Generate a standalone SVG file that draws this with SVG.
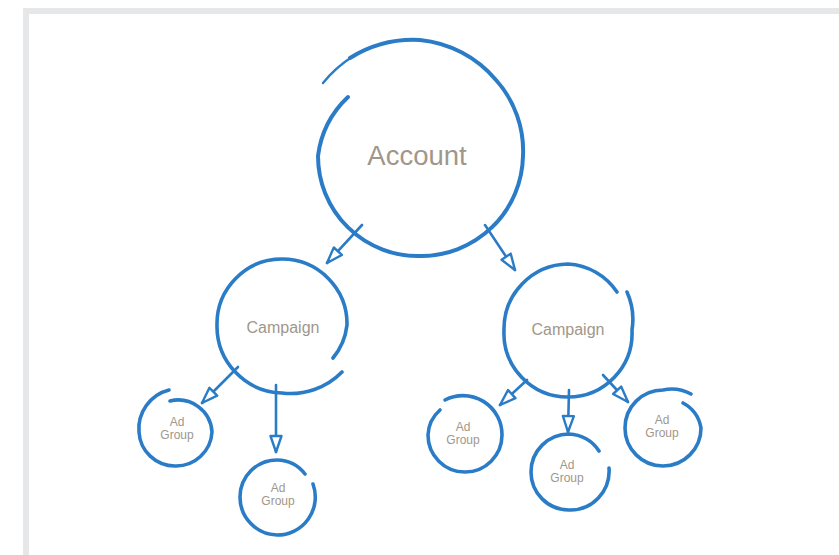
<svg xmlns="http://www.w3.org/2000/svg" width="839" height="555" viewBox="0 0 839 555">
<style>
.ring{fill:none;stroke:#2b7cc7;stroke-width:3.6;stroke-linecap:round;stroke-linejoin:round}
.big{stroke-width:4}
.tail{fill:none;stroke:#2b7cc7;stroke-width:2.4;stroke-linecap:round}
.conn{fill:none;stroke:#2b7cc7;stroke-width:2.6;stroke-linecap:round}
.lbl{font-family:"Liberation Sans",Arial,sans-serif;fill:#a0978b;text-anchor:middle}
</style>
<defs>
<marker id="ah" viewBox="0 0 20 14" refX="18" refY="7" markerWidth="20" markerHeight="14" markerUnits="userSpaceOnUse" orient="auto">
<path d="M2,1.5 L18,7 L2,12.5 Z" fill="#fff" stroke="#2b7cc7" stroke-width="2.4" stroke-linejoin="round"/>
</marker>
</defs>
<rect x="0" y="0" width="839" height="555" fill="#fff"/>
<g id="frame" fill="#e6e7e8">
<rect x="23" y="8" width="816" height="6"/>
<rect x="23" y="8" width="6" height="547"/>
</g>
<g id="connectors">
<line class="conn" x1="362" y1="225" x2="327" y2="263" marker-end="url(#ah)"/>
<line class="conn" x1="485" y1="225" x2="515" y2="270" marker-end="url(#ah)"/>
<line class="conn" x1="238" y1="367" x2="202" y2="403" marker-end="url(#ah)"/>
<line class="conn" x1="276" y1="385" x2="276" y2="452" marker-end="url(#ah)"/>
<line class="conn" x1="527" y1="380" x2="500" y2="405" marker-end="url(#ah)"/>
<line class="conn" x1="569" y1="390" x2="568" y2="432" marker-end="url(#ah)"/>
<line class="conn" x1="603" y1="375" x2="628" y2="402" marker-end="url(#ah)"/>
</g>
<g id="account">
<path class="ring big" d="M348,97 A98,98 0 0 0 318,156 A100,100 0 0 0 420,256 A102,102 0 0 0 523,156 A106,106 0 0 0 496,80 A114,114 0 0 0 420,40 A120,120 0 0 0 350,58"/>
<path class="tail" d="M352,57 Q336,67 323,83"/>
<text class="lbl" x="417" y="165" font-size="27.5">Account</text>
</g>
<g id="campaign-left">
<path class="ring" d="M333,358 A63,63 0 0 0 347,325 A65,65 0 0 0 282,259 A65,65 0 0 0 217,325 A67,67 0 0 0 282,393 A72,72 0 0 0 342,372"/>
<text class="lbl" x="283" y="333" font-size="16">Campaign</text>
</g>
<g id="campaign-right">
<path class="ring" d="M627,292 A67,67 0 0 1 632,330 A64,64 0 0 1 568,397 A64,64 0 0 1 504,330 A65,65 0 0 1 568,264 A63,63 0 0 1 617,292"/>
<text class="lbl" x="568" y="335" font-size="16">Campaign</text>
</g>
<g id="adgroup-1">
<path class="ring" d="M170,401 A34,34 0 0 1 212,432 A36,36 0 0 1 175,466 A36,36 0 0 1 139,432 A40,40 0 0 1 169,390"/>
<text class="lbl" x="177" y="426" font-size="12">Ad</text>
<text class="lbl" x="177" y="439" font-size="12">Group</text>
</g>
<g id="adgroup-2">
<path class="ring" d="M313,484 A38,38 0 0 1 277,535 A38,38 0 0 1 240,497 A37,37 0 0 1 277,460 A36,36 0 0 1 305,474"/>
<text class="lbl" x="278" y="492" font-size="12">Ad</text>
<text class="lbl" x="278" y="505" font-size="12">Group</text>
</g>
<g id="adgroup-3">
<path class="ring" d="M445,400 A39,39 0 0 1 502,435 A37,37 0 0 1 465,472 A37,37 0 0 1 428,435 A35,35 0 0 1 440,410"/>
<text class="lbl" x="463" y="431" font-size="12">Ad</text>
<text class="lbl" x="463" y="444" font-size="12">Group</text>
</g>
<g id="adgroup-4">
<path class="ring" d="M609,468 A39,39 0 0 1 569,510 A38,38 0 0 1 531,472 A38,38 0 0 1 569,434 A37,37 0 0 1 599,451"/>
<text class="lbl" x="567" y="469" font-size="12">Ad</text>
<text class="lbl" x="567" y="482" font-size="12">Group</text>
</g>
<g id="adgroup-5">
<path class="ring" d="M683,403 A35,35 0 0 1 701,428 A38,38 0 0 1 663,466 A38,38 0 0 1 625,428 A38,38 0 0 1 663,390 A41,41 0 0 1 691,394"/>
<text class="lbl" x="662" y="424" font-size="12">Ad</text>
<text class="lbl" x="662" y="437" font-size="12">Group</text>
</g>
</svg>
